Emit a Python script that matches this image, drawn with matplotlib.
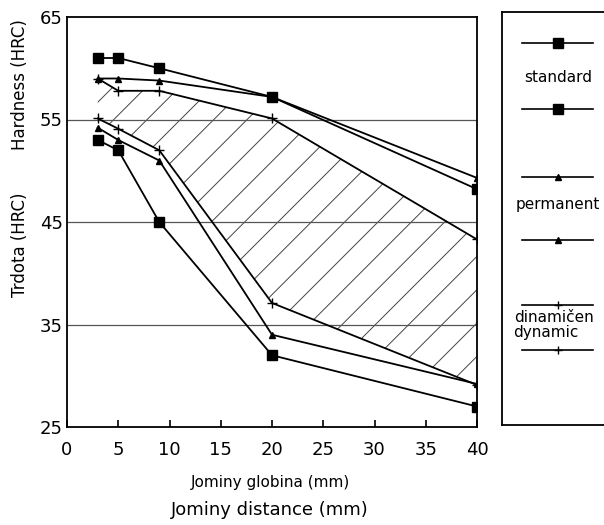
import numpy as np
import matplotlib.pyplot as plt
from matplotlib.lines import Line2D

# Jominy distance (mm)
x = [3, 5, 9, 20, 40]

# hardness bands (HRC), upper and lower curve per treatment
standard_upper = [61, 61, 60, 57.2, 48.2]
standard_lower = [53, 52, 45, 32, 27]
permanent_upper = [59, 59, 58.8, 57.2, 49.3]
permanent_lower = [54.2, 53, 51, 34, 29.2]
dynamic_upper = [59, 57.8, 57.8, 55.1, 43.3]
dynamic_lower = [55.1, 54.1, 52, 37.1, 29.1]

xticks = [0, 5, 10, 15, 20, 25, 30, 35, 40]
yticks = [25, 35, 45, 55, 65]

plt.rcParams['font.family'] = ['DejaVu Sans']
plt.rcParams['hatch.linewidth'] = 0.7

fig = plt.figure(figsize=(6.04, 5.25), dpi=100)
ax = fig.add_axes([67 / 604, 1 - 427 / 525, 410 / 604, 410 / 525])

# hatched band between the dynamic curves
ax.fill_between(x, dynamic_lower, dynamic_upper, facecolor='none',
                edgecolor='#444444', hatch='/', linewidth=0)

for yv in [35, 45, 55]:
    ax.axhline(yv, color='#555555', lw=0.9, zorder=1)

ms = 7
ax.plot(x, standard_upper, 'k-', marker='s', ms=ms, lw=1.3)
ax.plot(x, standard_lower, 'k-', marker='s', ms=ms, lw=1.3)
ax.plot(x, permanent_upper, 'k-', marker='^', ms=5, lw=1.3)
ax.plot(x, permanent_lower, 'k-', marker='^', ms=5, lw=1.3)
ax.plot(x, dynamic_upper, 'k-', marker='+', ms=7, mew=1, lw=1.3)
ax.plot(x, dynamic_lower, 'k-', marker='+', ms=7, mew=1, lw=1.3)

ax.set_xlim(0, 40)
ax.set_ylim(25, 65)
ax.set_xticks(xticks)
ax.set_yticks(yticks)
ax.tick_params(axis='x', direction='in', length=5, width=1.2, labelsize=13, pad=10)
ax.tick_params(axis='y', length=0, labelsize=13, pad=3)
for s in ax.spines.values():
    s.set_linewidth(1.3)

fig.text(20 / 604, 1 - 85 / 525, 'Hardness (HRC)', rotation=90, ha='center', va='center', fontsize=12)
fig.text(20 / 604, 1 - 245 / 525, 'Trdota (HRC)', rotation=90, ha='center', va='center', fontsize=12)
fig.text(270 / 604, 1 - 483 / 525, 'Jominy globina (mm)', ha='center', va='center', fontsize=11)
fig.text(270 / 604, 1 - 510 / 525, 'Jominy distance (mm)', ha='center', va='center', fontsize=13)

# legend panel on the right
lg = fig.add_axes([502 / 604, 1 - 425 / 525, 120 / 604, 413 / 525])
lg.set_xlim(502, 622)
lg.set_ylim(425, 12)
lg.set_xticks([])
lg.set_yticks([])
for s in lg.spines.values():
    s.set_linewidth(1.3)
    s.set_clip_on(False)

keys = [(43, 's', 7), (109, 's', 7), (177, '^', 5), (240, '^', 5), (305, '+', 6), (350, '+', 6)]
for yk, mk, sz in keys:
    lg.add_line(Line2D([522, 593], [yk, yk], color='k', lw=1.2))
    lg.add_line(Line2D([558], [yk], color='k', marker=mk, ms=sz, mew=1))
lg.text(558, 77, 'standard', ha='center', va='center', fontsize=11)
lg.text(558, 204, 'permanent', ha='center', va='center', fontsize=11)
lg.text(554, 318, 'dinamičen', ha='center', va='center', fontsize=11)
lg.text(546, 333, 'dynamic', ha='center', va='center', fontsize=11)

fig.savefig('out.png', dpi=100)
